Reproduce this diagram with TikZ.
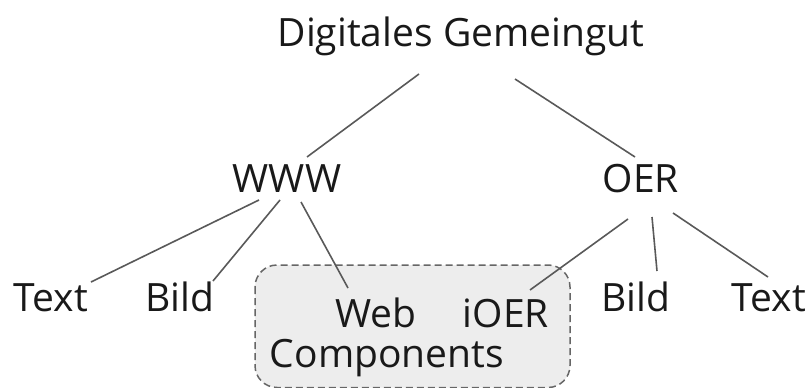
\documentclass[tikz,border=0pt]{standalone}
\usepackage{fontspec}
\setmainfont{Open Sans}
\usetikzlibrary{calc}
\begin{document}
\begin{tikzpicture}[x=1pt,y=-1pt,
  lbl/.style={anchor=base,inner sep=0pt,font=\fontsize{39}{44}\selectfont,text=black!90},
  conn/.style={draw=black!65,line width=1.6pt},
  groupbox/.style={draw=black!60,fill=black!7,dash pattern=on 7pt off 4pt,line width=1.5pt,rounded corners=22pt}]
\useasboundingbox (0,0) rectangle (812,388);
\draw[groupbox] (255,265) rectangle (570,387.5);
\node[lbl] (dig) at (461,46) {Digitales Gemeingut};
\node[lbl] (www) at (287,192) {WWW};
\node[lbl] (oer) at (641,192) {OER};
\node[lbl] (textl) at (51,311) {Text};
\node[lbl] (bildl) at (180,311) {Bild};
\node[lbl] (web) at (376,327) {Web};
\node[lbl] (ioer) at (506,327) {iOER};
\node[lbl] (comp) at (387,367) {Components};
\node[lbl] (bildr) at (636,311) {Bild};
\node[lbl] (textr) at (769,311) {Text};
\draw[conn] ($(dig.base)+(-42,28)$) -- ($(www.base)+(20,-35)$);
\draw[conn] ($(dig.base)+(54,33)$) -- ($(oer.base)+(-6,-35)$);
\draw[conn] ($(www.base)+(-28,8)$) -- ($(textl.base)+(40,-29)$);
\draw[conn] ($(www.base)+(-7,8)$) -- ($(bildl.base)+(33,-30)$);
\draw[conn] ($(www.base)+(14,10)$) -- ($(web.base)+(-28,-39)$);
\draw[conn] ($(oer.base)+(-13,27)$) -- ($(ioer.base)+(24,-37)$);
\draw[conn] ($(oer.base)+(11,25)$) -- ($(bildr.base)+(21,-40)$);
\draw[conn] ($(oer.base)+(32,21)$) -- ($(textr.base)+(-1,-34)$);
\end{tikzpicture}
\end{document}
